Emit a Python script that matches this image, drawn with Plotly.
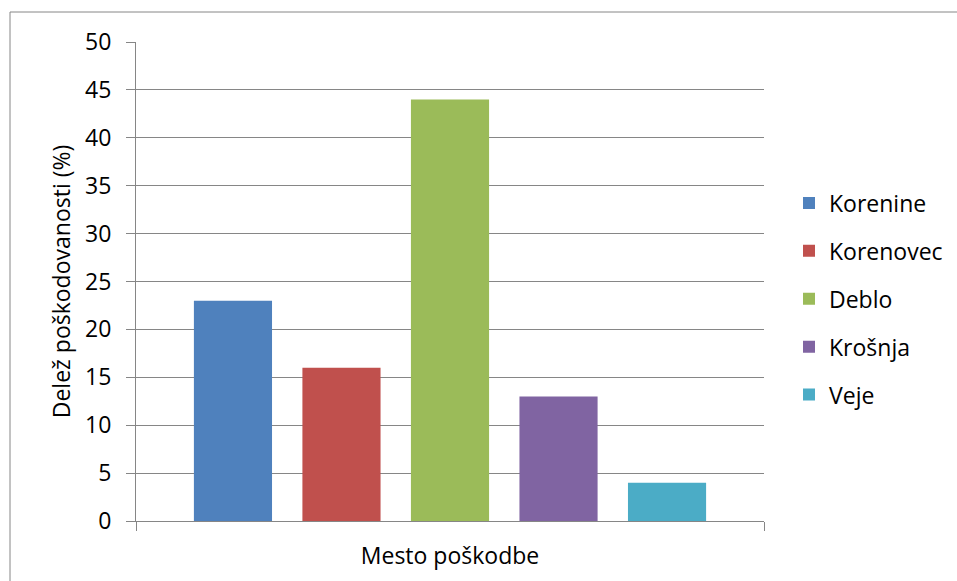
import plotly.graph_objects as go

category = ["Mesto poškodbe"]
series_names = ["Korenine", "Korenovec", "Deblo", "Krošnja", "Veje"]
series_values = [23, 16, 44, 13, 4]
series_colors = ["#4F81BD", "#C0504D", "#9BBB59", "#8064A2", "#4BACC6"]
y_ticks = [0, 5, 10, 15, 20, 25, 30, 35, 40, 45, 50]

FONT = "Open Sans"
FS = 23
GRID = "#868686"

fig = go.Figure()
for name, val, col in zip(series_names, series_values, series_colors):
    fig.add_trace(go.Bar(
        x=category, y=[val], name=name, marker=dict(color=col, line=dict(width=0)),
        legendgroup=name,
    ))

fig.update_layout(
    width=957, height=581,
    margin=dict(l=136, r=193, t=42, b=60, autoexpand=False),
    paper_bgcolor="white", plot_bgcolor="white",
    barmode="group", bargap=0.136, bargroupgap=0.28,
    font=dict(family=FONT, size=FS, color="#000000"),
    showlegend=True,
    legend=dict(x=(789 - 136) / 628, xanchor="left", y=(521 - 299) / 479, yanchor="middle",
                font=dict(family=FONT, size=FS), tracegroupgap=15,
                itemsizing="constant", bgcolor="rgba(0,0,0,0)"),
    xaxis=dict(
        type="category", showline=True, linecolor=GRID, linewidth=1,
        ticks="outside", tickson="boundaries", ticklen=9, tickcolor=GRID,
        showgrid=False, tickfont=dict(family=FONT, size=FS), ticklabelstandoff=14,
    ),
    yaxis=dict(
        range=[0, 50], tickvals=y_ticks, showline=True, linecolor=GRID, linewidth=1,
        ticks="outside", ticklen=9, tickcolor=GRID, showgrid=True, gridcolor=GRID,
        gridwidth=1, zeroline=False, tickfont=dict(family=FONT, size=FS),
        ticklabelstandoff=10,
        title=dict(text="Delež poškodovanosti (%)", font=dict(family=FONT, size=FS),
                   standoff=8),
    ),
    shapes=[dict(type="rect", xref="paper", yref="paper",
                 x0=(10 - 136) / 628, x1=(965 - 136) / 628,
                 y0=(521 - 590) / 479, y1=(521 - 12) / 479,
                 line=dict(color=GRID, width=1), fillcolor="rgba(0,0,0,0)",
                 layer="below")],
)

fig.write_html("out.html")
